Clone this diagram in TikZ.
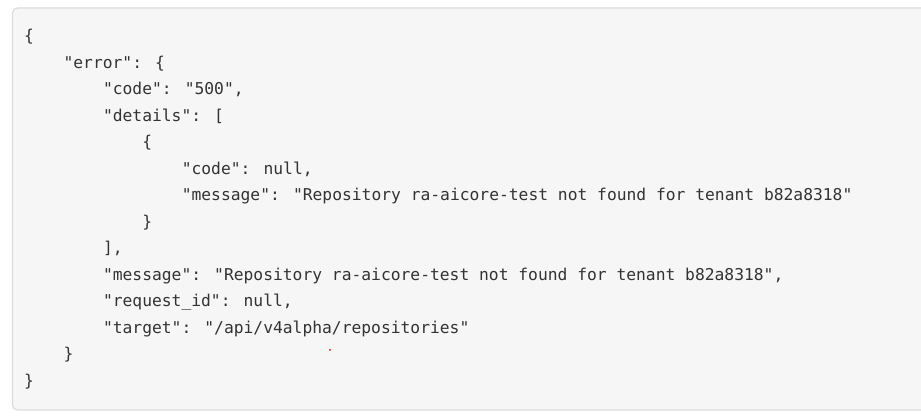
\documentclass[tikz,border=0pt]{standalone}
\usepackage{fontspec}
\newfontfamily\codefont{DejaVu Sans Mono}
\definecolor{boxfill}{HTML}{F6F6F6}
\definecolor{boxline}{HTML}{DCDCDC}
\definecolor{codetext}{HTML}{333333}
\begin{document}
\begin{tikzpicture}[x=1pt,y=1pt,
  codeline/.style={anchor=base west, inner sep=0pt, text=codetext,
    font=\codefont\fontsize{16.3pt}{20pt}\selectfont}]
\useasboundingbox (0,0) rectangle (921,419);
\fill[white] (0,0) rectangle (921,419);
\draw[boxline, fill=boxfill, line width=1.2pt, rounded corners=5pt]
  (12.5,9) rectangle (940,411);
\def\cw{9.85}
\def\xo{24}
\node[codeline] (l0)  at (\xo+0*\cw, 419-42) {\{};
\node[codeline] (l1)  at (\xo+4*\cw, 419-68.5) {"error": \{};
\node[codeline] (l2)  at (\xo+8*\cw, 419-95) {"code": "500",};
\node[codeline] (l3)  at (\xo+8*\cw, 419-121.5) {"details": [};
\node[codeline] (l4)  at (\xo+12*\cw, 419-148) {\{};
\node[codeline] (l5)  at (\xo+16*\cw, 419-174.5) {"code": null,};
\node[codeline] (l6)  at (\xo+16*\cw, 419-201) {"message": "Repository ra-aicore-test not found for tenant b82a8318"};
\node[codeline] (l7)  at (\xo+12*\cw, 419-227.5) {\}};
\node[codeline] (l8)  at (\xo+8*\cw, 419-254) {],};
\node[codeline] (l9)  at (\xo+8*\cw, 419-280.5) {"message": "Repository ra-aicore-test not found for tenant b82a8318",};
\node[codeline] (l10) at (\xo+8*\cw, 419-307) {"request\_id": null,};
\node[codeline] (l11) at (\xo+8*\cw, 419-333.5) {"target": "/api/v4alpha/repositories"};
\node[codeline] (l12) at (\xo+4*\cw, 419-360) {\}};
\node[codeline] (l13) at (\xo+0*\cw, 419-386.5) {\}};
\fill[red] (330,419-350) circle (1pt);
\end{tikzpicture}
\end{document}
